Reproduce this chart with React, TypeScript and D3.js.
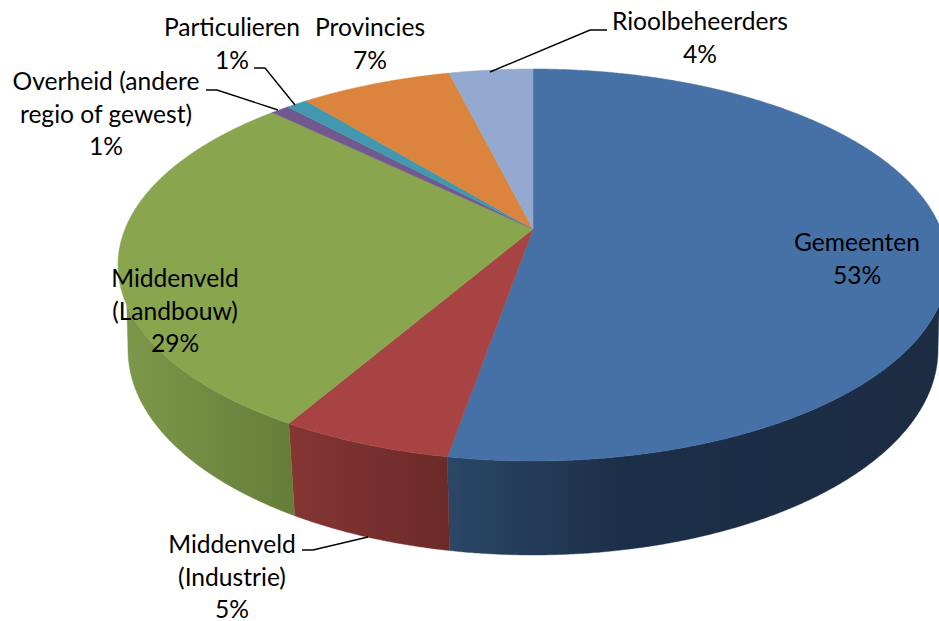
import React, { useEffect } from "react";
import * as d3 from "d3";

const categories = ["Gemeenten", "Middenveld (Industrie)", "Middenveld (Landbouw)", "Overheid (andere regio of gewest)", "Particulieren", "Provincies", "Rioolbeheerders"];
const values = [52.75, 5.65, 28.8, 0.85, 1.0, 7.05, 3.9];
const topColors = ["#4571a6", "#a74443", "#89a54e", "#71588f", "#4198af", "#db843d", "#93a9cf"];
const wallStops: (string[][] | null)[] = [
  [["0", "#2b4767"], ["0.35", "#1c2f48"], ["1", "#1b2c43"]],
  [["0", "#853534"], ["1", "#6b2a29"]],
  [["0", "#7c974a"], ["1", "#667d39"]],
  null, null, null, null,
];

const labelLines = [
  ["Gemeenten", "53%"],
  ["Middenveld", "(Industrie)", "5%"],
  ["Middenveld", "(Landbouw)", "29%"],
  ["Overheid (andere", "regio of gewest)", "1%"],
  ["Particulieren", "1%"],
  ["Provincies", "7%"],
  ["Rioolbeheerders", "4%"],
];
const labelAnchors = [
  [857, 251], [232, 553], [175, 287], [106, 90], [232, 36], [370, 36], [700, 30],
];
const lineStep = 32.7;
const leaders: [number, number][][] = [
  [[368, 537], [313, 550], [302, 550]],
  [[278, 110], [217, 90], [206, 90]],
  [[295, 105], [265, 68], [254, 68]],
  [[490, 72], [590, 30], [607, 30]],
];

const W = 939, H = 621;
const cx = 533;
const topE = { cy: 265, rx: 415, ry: 196 };
const botE = { cy: 350, rx: 405, ry: 205 };
const apexV = (229 - topE.cy) / topE.ry;

// circle angle (clockwise from top) -> normalised point on the tilted rim
function rim(theta: number): [number, number] {
  const u = Math.sin(theta), v = -Math.cos(theta), a = apexV;
  const d = 1 + a * v;
  return [(u * Math.sqrt(1 - a * a)) / d, (v + a) / d];
}
const onE = (e: typeof topE, p: [number, number]): [number, number] => [cx + e.rx * p[0], e.cy + e.ry * p[1]];
const line = d3.line();

export default function App() {
  useEffect(() => { document.body.style.margin = "0"; }, []);
  const arcs = d3.pie<number>().sort(null).startAngle(0).endAngle(2 * Math.PI)(values);
  const sampled = arcs.map((a) => {
    const n = Math.max(2, Math.ceil((a.endAngle - a.startAngle) / 0.005));
    return d3.range(n + 1).map((i) => rim(a.startAngle + ((a.endAngle - a.startAngle) * i) / n));
  });
  return (
    <svg width={W} height={H} style={{ display: "block", position: "absolute", left: 0, top: 0 }} fontFamily="Lato" fontSize={24.6}>
      <defs>
        {wallStops.map((s, i) => s && (
          <linearGradient key={i} id={`wall${i}`} x1="0" x2="1" y1="0" y2="0">
            {s.map(([o, c]) => <stop key={o} offset={o} stopColor={c} />)}
          </linearGradient>
        ))}
      </defs>
      <rect width={W} height={H} fill="#fff" />
      {sampled.map((pts, i) => {
        if (!wallStops[i]) return null;
        const top = pts.filter((p) => p[1] >= 0.2).map((p) => onE(topE, p));
        const bot = pts.filter((p) => p[1] >= 0).map((p) => onE(botE, p));
        if (!top.length) return null;
        return <path key={i} d={line([...top, ...bot.reverse()]) + "Z"} fill={`url(#wall${i})`} stroke={`url(#wall${i})`} strokeWidth={0.4} />;
      })}
      {sampled.map((pts, i) => (
        <path key={i} d={line([[cx, 229], ...pts.map((p) => onE(topE, p))]) + "Z"} fill={topColors[i]} stroke={topColors[i]} strokeWidth={0.5} />
      ))}
      {leaders.map((l, i) => <path key={i} d={line(l)!} fill="none" stroke="#000" strokeWidth={1.4} />)}
      {labelLines.map((ls, i) => (
        <text key={categories[i]} textAnchor="middle" fill="#000">
          {ls.map((t, j) => <tspan key={j} x={labelAnchors[i][0]} y={labelAnchors[i][1] + j * lineStep}>{t}</tspan>)}
        </text>
      ))}
    </svg>
  );
}
